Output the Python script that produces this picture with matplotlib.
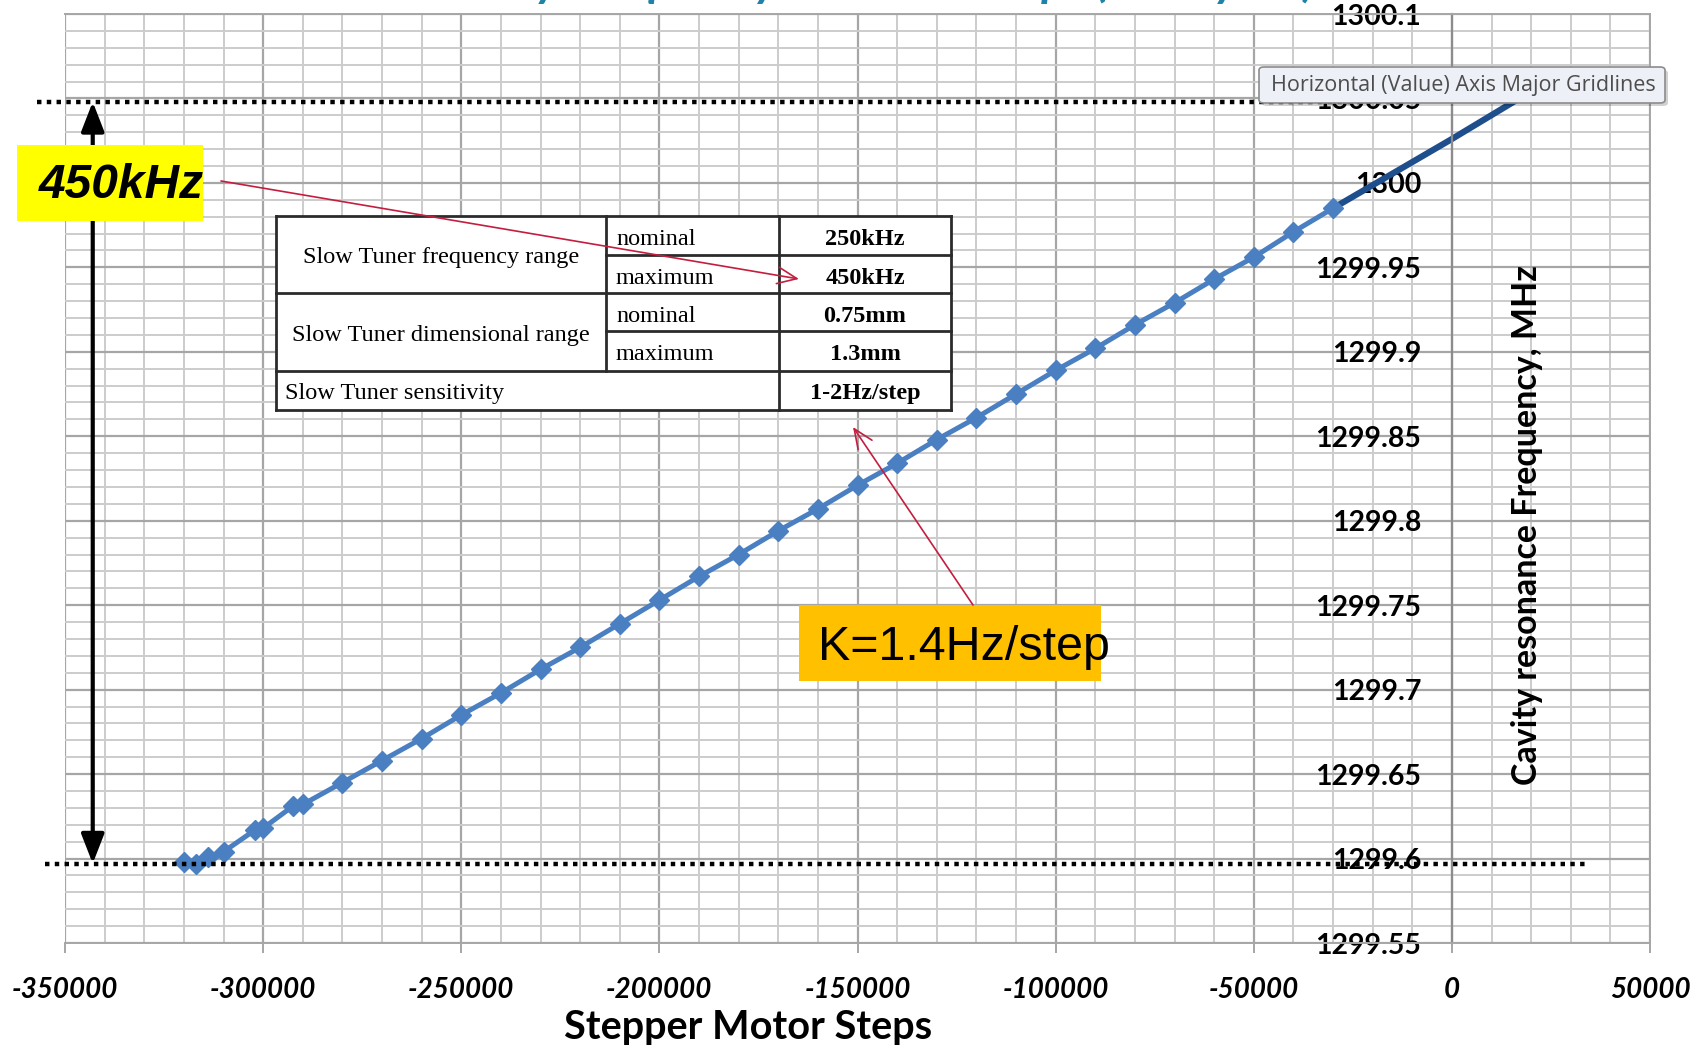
import numpy as np
from matplotlib import pyplot as plt, patches as mpatches
from matplotlib.lines import Line2D

W, H = 1704, 1045

# Dados ------------------------------------------------------------------------------------------------------------ #
passos = [-320000, -317000, -314000, -310000, -302000, -300000, -292500, -290000, -280000, -270000,
          -260000, -250000, -240000, -230000, -220000, -210000, -200000, -190000, -180000, -170000,
          -160000, -150000, -140000, -130000, -120000, -110000, -100000, -90000, -80000, -70000,
          -60000, -50000, -40000, -30000]
frequencia = [1299.598, 1299.597, 1299.601, 1299.604, 1299.617, 1299.618, 1299.631, 1299.632, 1299.645, 1299.658,
              1299.671, 1299.685, 1299.698, 1299.712, 1299.725, 1299.739, 1299.753, 1299.767, 1299.780, 1299.794,
              1299.807, 1299.821, 1299.834, 1299.848, 1299.861, 1299.875, 1299.889, 1299.902, 1299.916, 1299.929,
              1299.943, 1299.956, 1299.971, 1299.985]
passos_ext = [-30000, 0, 17000]
frequencia_ext = [1299.985, 1300.026, 1300.050]

limite_sup = 1300.048
limite_inf = 1299.597

xticks = [-350000, -300000, -250000, -200000, -150000, -100000, -50000, 0, 50000]
yticks = [1299.55, 1299.6, 1299.65, 1299.7, 1299.75, 1299.8, 1299.85, 1299.9, 1299.95, 1300, 1300.05, 1300.1]
ytick_labels = ['1299.55', '1299.6', '1299.65', '1299.7', '1299.75', '1299.8', '1299.85', '1299.9',
                '1299.95', '1300', '1300.05', '1300.1']

grupos = ['Slow Tuner frequency range', 'Slow Tuner dimensional range']
subitens = ['nominal', 'maximum']
valores = ['250kHz', '450kHz', '0.75mm', '1.3mm']
sensibilidade = ['Slow Tuner sensitivity', '1-2Hz/step']


def fx(x):
    return x / W


def fy(y):
    return 1 - y / H


fig = plt.figure(figsize=(W / 100, H / 100), dpi=100)
ax = fig.add_axes([fx(65), fy(943), fx(1585), 929 / H])
ax.set_xlim(-350000, 50000)
ax.set_ylim(1299.55, 1300.1)

# Grade
ax.set_xticks(xticks)
ax.set_xticks(np.arange(-350000, 50001, 10000), minor=True)
ax.set_yticks(yticks)
ax.set_yticks(np.arange(1299.55, 1300.1001, 0.01), minor=True)
ax.grid(True, which='major', color='#a6a6a6', lw=1.6)
ax.grid(True, which='minor', color='#cccccc', lw=1.4)
ax.set_axisbelow(True)
for lado in ['top', 'right', 'bottom']:
    ax.spines[lado].set_color('#a6a6a6')
    ax.spines[lado].set_linewidth(1.4)
ax.spines['left'].set_position(('data', 0))
ax.spines['left'].set_color('#8c8c8c')
ax.spines['left'].set_linewidth(1.6)

ax.set_yticklabels(ytick_labels, fontfamily='Lato', fontweight='bold', fontsize=20.5)
ax.set_xticklabels([str(v) for v in xticks], fontfamily='Lato', fontweight='bold', fontstyle='italic', fontsize=20)
ax.tick_params(axis='y', which='both', length=0, pad=22)
ax.tick_params(axis='x', which='major', length=7, color='#a6a6a6', width=1.4, pad=17.5)
ax.tick_params(axis='x', which='minor', length=0)

# Séries
ax.plot(passos_ext, frequencia_ext, color='#1f4e8c', lw=4.5, solid_capstyle='round', zorder=2)
ax.plot(passos, frequencia, color='#4a7fc1', lw=3.6, marker='D', ms=10.5, mec='#4a7fc1', zorder=2.1)

# Limites pontilhados e seta dupla
ax.plot([-357000, -12000], [limite_sup] * 2, color='black', lw=3.2, ls=(0, (1, 1.2)),
        dash_capstyle='butt', clip_on=False, zorder=2.2)
ax.plot([-355000, 34000], [limite_inf] * 2, color='black', lw=3.2, ls=(0, (1, 1.2)),
        dash_capstyle='butt', clip_on=False, zorder=2.2)
ax.annotate('', xy=(-343000, limite_sup), xytext=(-343000, limite_inf),
            arrowprops=dict(arrowstyle='<|-|>,head_length=0.9,head_width=0.35', color='black', lw=3,
                            shrinkA=0, shrinkB=0, mutation_scale=20), annotation_clip=False, zorder=3)

# Eixos
fig.text(fx(748), fy(1027), 'Stepper Motor Steps', ha='center', va='center', fontfamily='Lato',
         fontweight='bold', fontsize=28.5)
fig.text(fx(1527), fy(525), 'Cavity resonance Frequency, MHz', ha='center', va='center', rotation=90,
         fontfamily='Lato', fontweight='bold', fontsize=24.5)

# Título (cortado no topo da imagem)
fig.text(fx(430), 1 + 4 / H, 'Cavity Frequency vs Motor Steps (Cavity #2)', ha='left', va='baseline',
         fontfamily='Lato', fontweight='bold', fontstyle='italic', fontsize=34, color='#1f82a8')

# Tabela
tab_x = [276, 606, 779, 951]
tab_y = [216, 255, 293, 331, 371, 410]
fig.patches.append(mpatches.Rectangle((fx(tab_x[0]), fy(tab_y[-1])), fx(tab_x[-1] - tab_x[0]),
                                      (tab_y[-1] - tab_y[0]) / H, transform=fig.transFigure,
                                      facecolor='white', edgecolor='none', zorder=4))
segmentos = [
    ((tab_x[0], tab_x[3]), (tab_y[0], tab_y[0])),
    ((tab_x[1], tab_x[3]), (tab_y[1], tab_y[1])),
    ((tab_x[0], tab_x[3]), (tab_y[2], tab_y[2])),
    ((tab_x[1], tab_x[3]), (tab_y[3], tab_y[3])),
    ((tab_x[0], tab_x[3]), (tab_y[4], tab_y[4])),
    ((tab_x[0], tab_x[3]), (tab_y[5], tab_y[5])),
    ((tab_x[0], tab_x[0]), (tab_y[0], tab_y[5])),
    ((tab_x[1], tab_x[1]), (tab_y[0], tab_y[4])),
    ((tab_x[2], tab_x[2]), (tab_y[0], tab_y[5])),
    ((tab_x[3], tab_x[3]), (tab_y[0], tab_y[5])),
]
for (x0, x1), (y0, y1) in segmentos:
    fig.lines.append(Line2D([fx(x0), fx(x1)], [fy(y0), fy(y1)], transform=fig.transFigure,
                            color='#2b2b2b', lw=2.0, zorder=5))

fonte_tab = dict(fontfamily='Liberation Serif', fontsize=17.5, va='center', zorder=6)
for i, grupo in enumerate(grupos):
    y0, y1 = tab_y[2 * i], tab_y[2 * i + 2]
    fig.text(fx((tab_x[0] + tab_x[1]) / 2), fy((y0 + y1) / 2 + 3), grupo, ha='center', **fonte_tab)
    for j, sub in enumerate(subitens):
        yc = (tab_y[2 * i + j] + tab_y[2 * i + j + 1]) / 2 + 4
        fig.text(fx(tab_x[1] + 10), fy(yc), sub, ha='left', **fonte_tab)
        fig.text(fx((tab_x[2] + tab_x[3]) / 2), fy(yc), valores[2 * i + j], ha='center',
                 fontweight='bold', **fonte_tab)
yc = (tab_y[4] + tab_y[5]) / 2 + 3
fig.text(fx(tab_x[0] + 9), fy(yc), sensibilidade[0], ha='left', **fonte_tab)
fig.text(fx((tab_x[2] + tab_x[3]) / 2), fy(yc), sensibilidade[1], ha='center', fontweight='bold', **fonte_tab)

# Caixas de destaque
fig.patches.append(mpatches.Rectangle((fx(17), fy(221)), fx(186), 76 / H, transform=fig.transFigure,
                                      facecolor='#ffff00', edgecolor='none', zorder=4))
fig.text(fx(39), fy(186), '450kHz', ha='left', va='center', fontfamily='Liberation Sans', fontweight='bold',
         fontstyle='italic', fontsize=34.5, zorder=6)
fig.patches.append(mpatches.Rectangle((fx(799), fy(681)), fx(302), 76 / H, transform=fig.transFigure,
                                      facecolor='#ffc000', edgecolor='none', zorder=4))
fig.text(fx(818), fy(648), 'K=1.4Hz/step', ha='left', va='center', fontfamily='Liberation Sans',
         fontsize=34.8, zorder=6)

# Setas vermelhas
seta = dict(arrowstyle='->,head_length=0.7,head_width=0.3', color='#c41e3f', lw=1.2,
            shrinkA=0, shrinkB=0, mutation_scale=20)
fig.add_artist(mpatches.FancyArrowPatch((fx(221), fy(181)), (fx(799), fy(279)), transform=fig.transFigure,
                                        zorder=7, **seta))
fig.add_artist(mpatches.FancyArrowPatch((fx(973), fy(605)), (fx(853), fy(427)), transform=fig.transFigure,
                                        zorder=7, **seta))

# Dica de ferramenta
fig.patches.append(mpatches.FancyBboxPatch((fx(1262), fy(106)), fx(406), 36 / H, transform=fig.transFigure,
                                           boxstyle='round,pad=0,rounding_size=0.003', facecolor='#000000',
                                           alpha=0.18, edgecolor='none', zorder=8))
fig.patches.append(mpatches.FancyBboxPatch((fx(1259), fy(103)), fx(406), 36 / H, transform=fig.transFigure,
                                           boxstyle='round,pad=0,rounding_size=0.003', facecolor='#eef0f8',
                                           edgecolor='#8c8c8c', lw=1.2, zorder=9))
fig.text(fx(1271), fy(85), 'Horizontal (Value) Axis Major Gridlines', ha='left', va='center',
         fontfamily='Open Sans', fontsize=15.5, color='#4d4d4d', zorder=10)

fig.savefig('out.png', dpi=100)
